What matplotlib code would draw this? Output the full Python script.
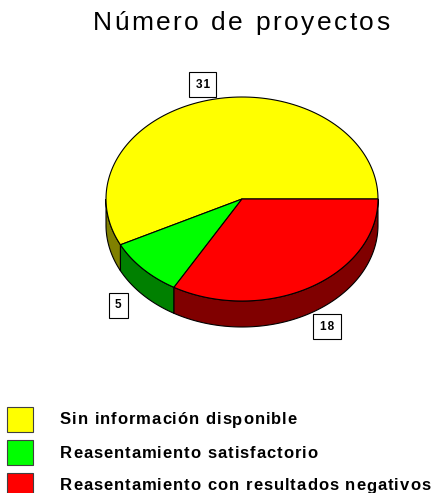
import numpy as np
import matplotlib
matplotlib.use("Agg")
import matplotlib.pyplot as plt
from matplotlib.patches import Polygon, Rectangle

plt.rcParams["font.family"] = ["Liberation Sans", "DejaVu Sans"]

# data
title = "Número de proyectos"
categories = ["Sin información disponible",
              "Reasentamiento satisfactorio",
              "Reasentamiento con resultados negativos"]
values = [31, 5, 18]
top_colors = ["#ffff00", "#00ff00", "#ff0000"]
side_colors = ["#808000", "#008000", "#800000"]

# geometry of the fake 3d pie (pixel units)
cx, cy = 242, 199
rx, ry = 136, 102
depth = 26


def ellipse_pts(t1, t2, n=120, dy=0):
    t = np.radians(np.linspace(t1, t2, n))
    return np.column_stack([cx + rx * np.cos(t), cy - ry * np.sin(t) + dy])


def spaced_text(ax, x, y, s, gap, ha="left", **kw):
    # draw char by char so we can add letter spacing
    r = fig.canvas.get_renderer()
    widths = []
    for ch in s:
        t = ax.text(0, 0, ch.replace(" ", "n"), **kw)
        bb = t.get_window_extent(renderer=r)
        w = bb.width * 0.5 if ch == " " else bb.width
        widths.append(w)
        t.remove()
    total = sum(widths) + gap * (len(s) - 1)
    x0 = x - total / 2 if ha == "center" else x
    for ch, w in zip(s, widths):
        if ch != " ":
            ax.text(x0, y, ch, ha="left", va="center", **kw)
        x0 += w + gap


fig = plt.figure(figsize=(4.4, 4.93), dpi=100)
ax = fig.add_axes([0, 0, 1, 1])
ax.set_xlim(0, 440)
ax.set_ylim(493, 0)
ax.axis("off")

total = sum(values)
angles = np.cumsum([0] + [v / total * 360 for v in values])

# side walls (only the front half, 180..360 deg)
for i in range(len(values)):
    a1, a2 = max(angles[i], 180), min(angles[i + 1], 360)
    if a2 <= a1:
        continue
    top = ellipse_pts(a1, a2)
    bot = ellipse_pts(a2, a1, dy=depth)
    ax.add_patch(Polygon(np.vstack([top, bot]), closed=True,
                         facecolor=side_colors[i], edgecolor="black", lw=0.8))

# top face
for i in range(len(values)):
    arc = ellipse_pts(angles[i], angles[i + 1])
    pts = np.vstack([[cx, cy], arc])
    ax.add_patch(Polygon(pts, closed=True, facecolor=top_colors[i],
                         edgecolor="black", lw=0.8))

# value labels
for i, v in enumerate(values):
    mid = np.radians((angles[i] + angles[i + 1]) / 2)
    lx = cx + 1.25 * rx * np.cos(mid)
    ly = cy - 1.15 * ry * np.sin(mid)
    if np.sin(mid) < 0:
        ly += depth
    ax.text(lx, ly, " ".join(str(v)).replace(" ", "\u200a"), ha="center",
            va="center", fontsize=8.5, fontweight="bold",
            bbox=dict(boxstyle="square,pad=0.55", facecolor="white",
                      edgecolor="black", lw=0.8))

spaced_text(ax, 241, 23, title, 2.5, ha="center", fontsize=19)

# legend
for i, lab in enumerate(categories):
    y0 = 407 + i * 33
    ax.add_patch(Rectangle((7, y0), 26, 25, facecolor=top_colors[i],
                           edgecolor="#404040", lw=0.8))
    spaced_text(ax, 60, y0 + 13, lab, 0.95, fontsize=12, fontweight="bold")

fig.savefig("out.png", dpi=100)
